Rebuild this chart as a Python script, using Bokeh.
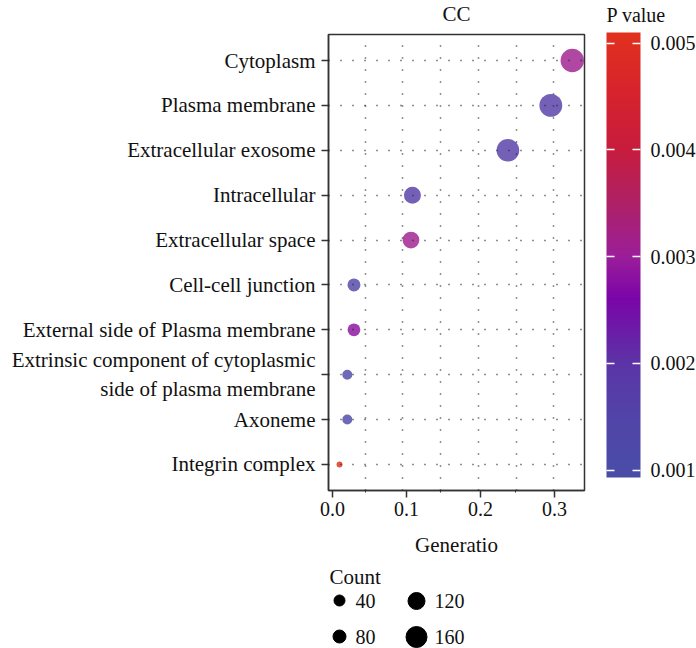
import numpy as np
from bokeh.plotting import figure
from bokeh.layouts import column
from bokeh.models import (ColumnDataSource, FactorRange, Range1d, LinearColorMapper,
                          ColorBar, FixedTicker, PrintfTickFormatter)
from bokeh.core.properties import value
from bokeh.embed import file_html
from bokeh.resources import INLINE

# ---------------- data ----------------
terms = ["Cytoplasm", "Plasma membrane", "Extracellular exosome", "Intracellular",
         "Extracellular space", "Cell-cell junction", "External side of Plasma membrane",
         "Extrinsic component of cytoplasmic\nside of plasma membrane", "Axoneme",
         "Integrin complex"]
gene_ratio = [0.324, 0.295, 0.237, 0.108, 0.106, 0.029, 0.029, 0.020, 0.020, 0.0095]
counts = [184, 178, 176, 120, 118, 80, 75, 35, 35, 15]
p_values = [0.0031, 0.0017, 0.0017, 0.0017, 0.0031, 0.0014, 0.0028, 0.0012, 0.0013, 0.0051]
x_ticks = [0.0, 0.1, 0.2, 0.3]
p_ticks = [0.001, 0.002, 0.003, 0.004, 0.005]
legend_counts = [40, 80, 120, 160]
title = "CC"
cbar_title = "P value"

FONT = "Liberation Serif"
FS = "21px"
FSN = "20px"
INK = "#111111"

# size scale (count -> marker diameter, px)
size_knots_count = [0, 40, 80, 120, 160, 200]
size_knots_px = [3, 11, 13, 17, 21, 25]
def size_of(c):
    return list(np.interp(c, size_knots_count, size_knots_px))

# colour scale
p_low, p_high = 0.00093, 0.0051
anchor_v = [0.00093, 0.0015, 0.0020, 0.0026, 0.0030, 0.0035, 0.0040, 0.0045, 0.0051]
anchor_c = ["#4A4DA8", "#5144A8", "#5C34A6", "#7A05A8", "#9B1E9A", "#AE2166",
            "#C71C3E", "#D5222E", "#E1311E"]
def hex2rgb(h):
    return [int(h[i:i + 2], 16) for i in (1, 3, 5)]
rgb = np.array([hex2rgb(c) for c in anchor_c], dtype=float)
vs = np.linspace(p_low, p_high, 256)
palette = ["#%02x%02x%02x" % tuple(int(round(np.interp(v, anchor_v, rgb[:, k]))) for k in range(3))
           for v in vs]
mapper = LinearColorMapper(palette=palette, low=p_low, high=p_high)

src = ColumnDataSource(dict(term=terms, ratio=gene_ratio, count=counts, p=p_values,
                            size=size_of(counts)))

LEFT, RIGHT, TOP, BOTTOM = 328, 112, 34, 70
W, H = 696, 560
FW, FH = W - LEFT - RIGHT, H - TOP - BOTTOM
factors = list(reversed(terms))
p = figure(width=W, height=H, output_backend="svg", toolbar_location=None,
           x_range=Range1d(-0.0054, 0.3405),
           y_range=FactorRange(factors=factors, range_padding=0.08,
                               range_padding_units="absolute"),
           min_border_left=LEFT, min_border_right=RIGHT, min_border_top=TOP,
           min_border_bottom=BOTTOM)
p.background_fill_color = "white"
p.border_fill_color = "white"
p.outline_line_color = "#333333"
p.outline_line_width = 1.5

p.scatter(x="ratio", y="term", size="size", source=src, line_color=None,
          fill_color={"field": "p", "transform": mapper}, fill_alpha=0.82)

# axes
p.xaxis.ticker = FixedTicker(ticks=x_ticks, minor_ticks=[0.045, 0.146, 0.247])
p.xaxis.formatter = PrintfTickFormatter(format="%.1f")
p.xaxis.axis_label = "Generatio"
for ax in (p.xaxis[0], p.yaxis[0]):
    ax.axis_line_color = "#333333"
    ax.axis_line_width = 1.5
    ax.major_tick_line_color = "#333333"
    ax.major_tick_line_width = 1.5
    ax.major_tick_out = 7
    ax.major_tick_in = 0
    ax.major_label_text_font = FONT
    ax.major_label_text_color = INK
    ax.axis_label_text_font = FONT
    ax.axis_label_text_font_size = FS
    ax.axis_label_text_font_style = "normal"
    ax.axis_label_text_color = INK
p.xaxis.major_label_text_font_size = FSN
p.yaxis.major_label_text_font_size = FS
p.xaxis.minor_tick_out = 2
p.xaxis.minor_tick_in = 0
p.xaxis.minor_tick_line_color = "#333333"
p.xaxis.major_label_standoff = 4
p.xaxis.axis_label_standoff = 14
p.yaxis.major_label_standoff = 6

# dotted grids drawn above the points
p.xgrid.ticker = FixedTicker(ticks=[0.045, 0.095, 0.146, 0.197, 0.248, 0.299])
for g in (p.xgrid[0], p.ygrid[0]):
    g.grid_line_color = "#222222"
    g.grid_line_width = 1.5
    g.grid_line_dash = "1 11"
    g.level = "overlay"

# colour bar (placed relative to the frame, outside it on the right)
CBX, CBY = 278, 13
cb = ColorBar(color_mapper=mapper, width=34, height=445, location=(CBX, CBY),
              padding=0, margin=0, ticker=FixedTicker(ticks=p_ticks),
              formatter=PrintfTickFormatter(format="%.3f"),
              major_label_text_font=FONT, major_label_text_font_size=FSN,
              major_label_text_color=INK, label_standoff=10,
              major_tick_in=8, major_tick_out=0, major_tick_line_color="white",
              major_tick_line_width=1.5, bar_line_color=None, border_line_color=None,
              background_fill_color=None)
p.add_layout(cb, "center")
# second (invisible) bar only to draw the white ticks on the left edge
cb2 = ColorBar(color_mapper=mapper, width=8, height=445, location=(CBX, CBY),
               padding=0, margin=0, ticker=FixedTicker(ticks=p_ticks),
               formatter=PrintfTickFormatter(format="%.3f"), scale_alpha=0,
               major_label_text_alpha=0, major_label_text_font_size=FSN,
               major_tick_in=8, major_tick_out=0, major_tick_line_color="white",
               major_tick_line_width=1.5, bar_line_color=None, border_line_color=None,
               background_fill_color=None)
p.add_layout(cb2, "center")

# headings: invisible one-tick bars whose single label carries the text
head_mapper = LinearColorMapper(palette=["white"], low=0, high=1)
def heading(text, x, y, size):
    return ColorBar(color_mapper=head_mapper, width=1, height=28, location=(x, y),
                    padding=0, margin=0, ticker=FixedTicker(ticks=[0.5]),
                    major_label_overrides={0.5: text}, scale_alpha=0,
                    major_label_text_font=FONT, major_label_text_font_size=size,
                    major_label_text_color=INK, label_standoff=6,
                    major_tick_in=0, major_tick_out=0, major_tick_line_color=None,
                    bar_line_color=None, border_line_color=None, background_fill_color=None)
p.add_layout(heading(cbar_title, CBX - 7, FH + 6, FSN), "center")   # "P value"
p.add_layout(heading(title, FW / 2 - 21, FH + 7, FS), "center")     # "CC"

# size legend (separate strip below, frame aligned with the main plot)
leg = figure(width=W, height=88, output_backend="svg", toolbar_location=None,
             x_range=Range1d(LEFT, W - RIGHT), y_range=Range1d(88, 0),
             min_border_left=LEFT, min_border_right=RIGHT,
             min_border_top=0, min_border_bottom=0)
leg.axis.visible = False
leg.grid.visible = False
leg.outline_line_color = None
leg.background_fill_color = "white"
leg.border_fill_color = "white"

lx_dot = [339, 339, 416, 416]
ly = [40, 76, 40.5, 76.5]
lx_txt = [355, 355, 434, 434]
lsrc = ColumnDataSource(dict(x=lx_dot, y=ly, tx=lx_txt,
                             size=size_of(legend_counts),
                             label=[str(c) for c in legend_counts]))
leg.scatter(x="x", y="y", size="size", source=lsrc, color="black")
leg.text(x="tx", y="y", text="label", source=lsrc, text_font=value(FONT),
         text_font_size=FSN, text_baseline="middle", text_align="left", text_color=INK)
leg.text(x=[329], y=[16], text=["Count"], text_font=value(FONT), text_font_size=FS,
         text_baseline="middle", text_align="left", text_color=INK)

layout = column(p, leg, spacing=0)
open("out.html", "w").write(file_html(layout, INLINE))
